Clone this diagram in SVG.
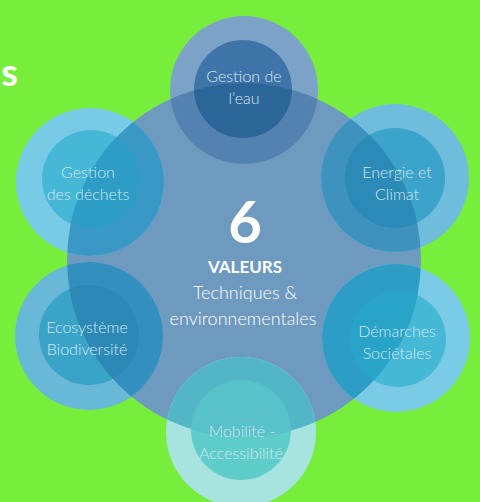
<svg xmlns="http://www.w3.org/2000/svg" width="480" height="502" viewBox="0 0 480 502">
<style>
.lbl{font-family:Lato,"Open Sans","Liberation Sans",sans-serif;font-weight:300;font-size:16px;fill:#d4e9f2;text-anchor:middle}
.ctr{font-family:Lato,"Open Sans","Liberation Sans",sans-serif;fill:#ffffff;text-anchor:middle}
.ov{clip-path:url(#centreClip)}
</style>
<defs>
<clipPath id="centreClip"><circle cx="244" cy="260" r="177"/></clipPath>
</defs>
<rect width="480" height="502" fill="#78ee3c"/>
<text x="18" y="86" font-family="Lato,'Open Sans','Liberation Sans',sans-serif" font-weight="700" font-size="38" fill="#ffffff" text-anchor="end">s</text>
<g id="centre">
<circle cx="244" cy="260" r="177" fill="#6e9ac0"/>
</g>
<g id="gestion-eau">
<circle cx="244" cy="90" r="74" fill="#7da2c8"/>
<circle cx="243" cy="89" r="49" fill="#3f74a8"/>
<g class="ov">
<circle cx="244" cy="90" r="74" fill="#5482b0"/>
<circle cx="243" cy="89" r="49" fill="#2c6598"/>
</g>
<text class="lbl" x="244" y="82">Gestion de</text>
<text class="lbl" x="244" y="104">l’eau</text>
</g>
<g id="energie-climat">
<circle cx="395" cy="178" r="74" fill="#70bcdc"/>
<circle cx="395" cy="178" r="50" fill="#3ca3cb"/>
<g class="ov">
<circle cx="395" cy="178" r="74" fill="#3e92be"/>
<circle cx="395" cy="178" r="50" fill="#2b8ab6"/>
</g>
<text class="lbl" x="397" y="178">Energie et</text>
<text class="lbl" x="397" y="200">Climat</text>
</g>
<g id="demarches-societales">
<circle cx="396" cy="338" r="74" fill="#7ccbe6"/>
<circle cx="398" cy="339" r="48" fill="#45b8d6"/>
<g class="ov">
<circle cx="396" cy="338" r="74" fill="#2e9dc5"/>
<circle cx="398" cy="339" r="48" fill="#29a3c8"/>
</g>
<text class="lbl" x="397" y="337">Démarches</text>
<text class="lbl" x="397" y="359">Sociétales</text>
</g>
<g id="mobilite-accessibilite">
<circle cx="241" cy="432" r="75" fill="#a8e4df"/>
<circle cx="241" cy="430" r="50" fill="#5ecdc9"/>
<g class="ov">
<circle cx="241" cy="432" r="75" fill="#52b6c6"/>
<circle cx="241" cy="430" r="50" fill="#58c1c9"/>
</g>
<text class="lbl" x="242" y="437" fill="#d6f0ee">Mobilité -</text>
<text class="lbl" x="241" y="459" fill="#d6f0ee">Accessibilité</text>
</g>
<g id="ecosysteme-biodiversite">
<circle cx="89" cy="336" r="74" fill="#6ab8d8"/>
<circle cx="89" cy="335" r="50" fill="#3aa3c8"/>
<g class="ov">
<circle cx="89" cy="336" r="74" fill="#3390be"/>
<circle cx="89" cy="335" r="50" fill="#2c88b5"/>
</g>
<text class="lbl" x="87" y="333">Ecosystème</text>
<text class="lbl" x="87" y="355">Biodiversité</text>
</g>
<g id="gestion-dechets">
<circle cx="90" cy="182" r="74" fill="#79cbe5"/>
<circle cx="91" cy="179" r="49" fill="#46b7d6"/>
<g class="ov">
<circle cx="90" cy="182" r="74" fill="#3a98c4"/>
<circle cx="91" cy="179" r="49" fill="#2d9dc6"/>
</g>
<text class="lbl" x="88" y="178">Gestion</text>
<text class="lbl" x="88" y="200">des déchets</text>
</g>
<g id="centre-text">
<text class="ctr" x="245" y="243" font-size="58" font-weight="700">6</text>
<text class="ctr" x="245" y="273" font-size="17" font-weight="700">VALEURS</text>
<text class="ctr" x="245" y="299" font-size="18" font-weight="300" fill="#e2edf5">Techniques &amp;</text>
<text class="ctr" x="243" y="325" font-size="18" font-weight="300" fill="#e2edf5">environnementales</text>
</g>
</svg>
